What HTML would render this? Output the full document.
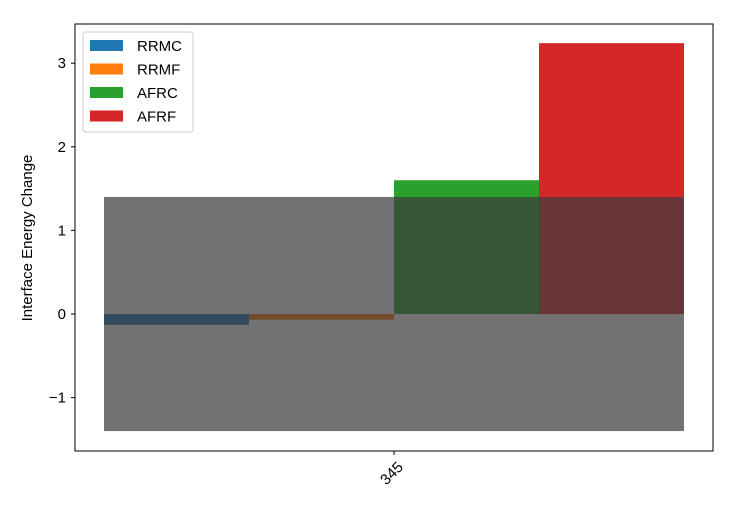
<!DOCTYPE html>
<html><head><meta charset="utf-8"><style>
body{margin:0;background:#fff;font-family:"Liberation Sans","DejaVu Sans",sans-serif;}
</style></head><body>
<svg width="750" height="500" viewBox="0 0 750 500" xmlns="http://www.w3.org/2000/svg">
<rect x="0" y="0" width="750" height="500" fill="#fff"/>
<g id="bars"></g>
<rect id="band" fill="rgb(60,60,60)" fill-opacity="0.72"/>
<rect x="75" y="24" width="638" height="427" fill="none" stroke="#000" stroke-width="1"/>
<g id="yticks"></g>
<g id="xticks"></g>
<text transform="translate(32,238) rotate(-90)" text-anchor="middle" font-size="15">Interface Energy Change</text>
<g id="legend"></g>
</svg>
<script>
const series = ["RRMC","RRMF","AFRC","AFRF"];
const values = [-0.13,-0.07,1.6,3.24];
const colors = ["#1f77b4","#ff7f0e","#2ca02c","#d62728"];
const categories = ["345"];
const yTicks = [-1,0,1,2,3];
const bandRange = [-1.4,1.4];
const NS="http://www.w3.org/2000/svg";
const y0=314, ppu=83.6;
function yS(v){return y0-v*ppu;}
const xLeft=104, xRight=684, bw=(xRight-xLeft)/series.length;
function mk(t,a,p){const e=document.createElementNS(NS,t);for(const k in a)e.setAttribute(k,a[k]);p.appendChild(e);return e;}
const bars=document.getElementById('bars');
values.forEach((v,i)=>{
 const r=mk('rect',{x:xLeft+i*bw,y:Math.min(yS(v),yS(0)),width:bw,height:Math.abs(yS(v)-yS(0)),fill:colors[i]},bars);
 
 
});
const band=document.getElementById('band');
band.setAttribute('x',xLeft);band.setAttribute('width',xRight-xLeft);
band.setAttribute('y',yS(bandRange[1]));band.setAttribute('height',yS(bandRange[0])-yS(bandRange[1]));
const yt=document.getElementById('yticks');
yTicks.forEach(t=>{
 const l=mk('line',{x1:71,x2:75,y1:yS(t),y2:yS(t),stroke:'#000'},yt);
 
 
 const tx=mk('text',{x:66,y:yS(t)+5,'text-anchor':'end','font-size':15},yt);
 tx.textContent=t<0?'\u2212'+Math.abs(t):String(t);
 
 
});
const xt=document.getElementById('xticks');
categories.forEach((c,i)=>{
 const cx=(xLeft+xRight)/2;
 const l=mk('line',{x1:cx,x2:cx,y1:451,y2:455,stroke:'#000'},xt);
 
 
 const tx=mk('text',{transform:`translate(${cx+10},${468}) rotate(-45)`,'text-anchor':'end','font-size':15},xt);
 tx.textContent=c;
 
 
});
const lg=document.getElementById('legend');
const fr=mk('rect',{x:83,y:32,width:110,height:100,rx:3,fill:'#fff','fill-opacity':0.8,stroke:'#ccc'},lg);


series.forEach((s,i)=>{
 const yy=40+i*23.5;
 const sw=mk('rect',{x:90,y:yy,width:33,height:11,fill:colors[i]},lg);
 
 
 const tx=mk('text',{x:137,y:yy+11,'font-size':15},lg);
 tx.textContent=s;
 
 
});
</script>
</body></html>
